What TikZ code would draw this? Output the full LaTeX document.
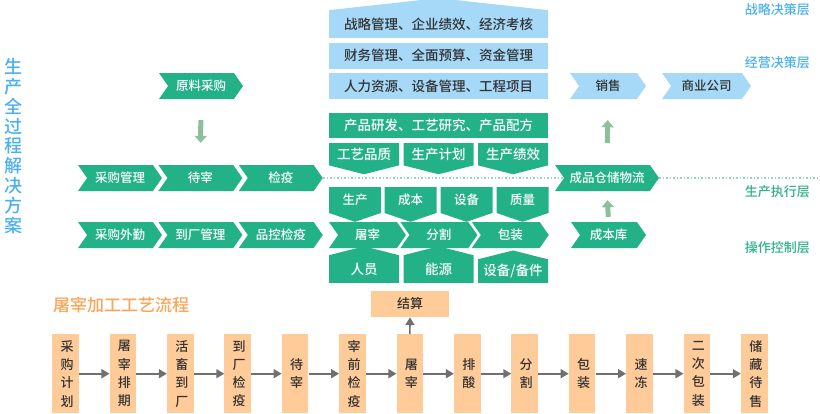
\documentclass[tikz,border=0pt]{standalone}
\usepackage{fontspec}
\setmainfont{Noto Sans CJK SC}[UprightFont={* Medium}]
\usetikzlibrary{shapes.symbols, arrows.meta, positioning}
\usepackage{xcolor}
\definecolor{boxgreen}{RGB}{35, 177, 136}
\definecolor{boxblue}{RGB}{166, 216, 247}
\definecolor{boxorange}{RGB}{255, 204, 153}
\definecolor{titleblue}{RGB}{74, 176, 240}
\definecolor{titleorange}{RGB}{250, 165, 90}
\definecolor{layergreen}{RGB}{45, 178, 138}
\definecolor{arrowgreen}{RGB}{141, 191, 155}
\definecolor{arrowgray}{RGB}{112, 112, 112}
\definecolor{dotgreen}{RGB}{150, 215, 195}
\definecolor{textdark}{RGB}{51, 51, 51}

\begin{document}
\begin{tikzpicture}[
    x=1pt, y=-1pt,
    % Node styles
    chev/.style={signal, signal to=east, signal from=west, signal pointer angle=110, minimum width=84pt, minimum height=26pt, inner sep=0pt, fill=boxgreen, text=white, font=\fontsize{12.5}{14}\selectfont},
    bluechev/.style={chev, fill=boxblue, text=textdark},
    bar/.style={rectangle, minimum width=219pt, minimum height=26pt, inner sep=0pt, fill=boxblue, text=textdark, font=\fontsize{13.5}{15}\selectfont},
    roofbar/.style={bar, signal, signal to=north, signal pointer angle=167.5, minimum height=38pt},
    downbox/.style={signal, signal to=south, signal pointer angle=151.6, minimum width=70pt, minimum height=29pt, inner sep=0pt, fill=boxgreen, text=white, font=\fontsize{13.5}{15}\selectfont},
    smalldown/.style={downbox, signal pointer angle=142.2, minimum width=52pt, minimum height=30pt, font=\fontsize{12.5}{14}\selectfont},
    upbox/.style={downbox, signal to=north, minimum height=31pt},
    procbox/.style={rectangle, minimum width=26.5pt, minimum height=79pt, inner sep=0pt, text width=1em, align=center, fill=boxorange, text=textdark, font=\fontsize{13}{18.3}\selectfont},
    layer/.style={anchor=east, inner sep=0pt, font=\fontsize{13}{15}\selectfont},
    % Arrow styles
    garrow/.style={-{Triangle[length=7pt, width=12pt]}, line width=5pt, arrowgreen},
    parrow/.style={-{Triangle[length=8pt, width=9pt]}, line width=1.6pt, arrowgray},
    dotline/.style={line width=1.5pt, dash pattern=on 1.5pt off 2pt, dotgreen},
]
\useasboundingbox (0,0) rectangle (820,413);

% Title on the left
\node[text width=1em, align=center, inner sep=0pt, text=titleblue, font=\fontsize{18}{19.8}\selectfont] (title) at (10,146) {生\\产\\全\\过\\程\\解\\决\\方\\案};

% Layer labels on the right
\node[layer, text=titleblue] (lzl) at (810,10) {战略决策层};
\node[layer, text=titleblue] (ljy) at (810,63) {经营决策层};
\node[layer, text=layergreen] (lsc) at (810,192) {生产执行层};
\node[layer, text=layergreen] (lcz) at (810,248) {操作控制层};

% Left side flow
\node[chev] (ylcg) at (201,86) {原料采购};
\node[chev] (cggl) at (120,178) {采购管理};
\node[chev, right=5pt of cggl] (dz) {待宰};
\node[chev, right=5pt of dz] (jy) {检疫};
\node[chev] (cgwq) at (120,235) {采购外勤};
\node[chev, right=5pt of cgwq] (dcgl) {到厂管理};
\node[chev, right=5pt of dcgl] (pkjy) {品控检疫};

% Dotted line through the middle
\coordinate (lineend) at (820,178);

% Centre column
\node[roofbar, anchor=south] (zlgl) at (438.5,38) {战略管理、企业绩效、经济考核};
\node[bar] (cwgl) at (438.5,55.5) {财务管理、全面预算、资金管理};
\node[bar] (rlzy) at (438.5,86) {人力资源、设备管理、工程项目};
\node[bar, fill=boxgreen, text=white, minimum height=25pt] (cpyf) at (438.5,125.5) {产品研发、工艺研究、产品配方};
\node[downbox, anchor=north] (gypz) at (364,143) {工艺品质};
\node[downbox, anchor=north] (scjh) at (438.5,143) {生产计划};
\node[downbox, anchor=north] (scjx) at (513,143) {生产绩效};
\node[smalldown, anchor=north] (sc) at (355,187) {生产};
\node[smalldown, anchor=north] (cb) at (410.5,187) {成本};
\node[smalldown, anchor=north] (sb) at (466.5,187) {设备};
\node[smalldown, anchor=north] (zl) at (522.5,187) {质量};
\node[chev, minimum width=77pt] (tz) at (367.5,235) {屠宰};
\node[chev, minimum width=77pt, right=3pt of tz] (fg) {分割};
\node[chev, minimum width=77pt, right=3pt of fg] (bz) {包装};
\node[upbox, anchor=south] (ry) at (364,283) {人员};
\node[upbox, anchor=south] (ny) at (438.5,283) {能源};
\node[upbox, anchor=south] (sbbj) at (513,283) {设备/备件};

% Right side flow
\node[bluechev, minimum width=76pt] (xs) at (608,86) {销售};
\node[bluechev, minimum width=89pt] (sygs) at (706.5,86) {商业公司};
\node[chev, minimum width=104pt] (cpcc) at (607,178) {成品仓储物流};
\node[chev, minimum width=75pt] (cbk) at (608.5,235) {成本库};

\draw[dotline] (jy.east) -- (cpcc.west);
\draw[dotline] (cpcc.east) -- (lineend);

% Green arrows
\draw[garrow, shorten <=21pt, shorten >=22pt] (ylcg.south) -- (dz.north);
\draw[garrow, shorten <=22pt, shorten >=21pt] (cpcc.north) -- (xs.south);
\draw[garrow, shorten <=5pt, shorten >=9pt] (cbk.north) -- (cpcc.south);

% Slaughter process
\node[anchor=west, inner sep=0pt, text=titleorange, font=\fontsize{17}{19}\selectfont] (proc) at (53,305) {屠宰加工工艺流程};
\foreach \t [count=\i from 0] in {{采\\购\\计\\划}, {屠\\宰\\排\\期}, {活\\畜\\到\\厂}, {到\\厂\\检\\疫}, {待\\宰}, {宰\\前\\检\\疫}, {屠\\宰}, {排\\酸}, {分\\割}, {包\\装}, {速\\冻}, {二\\次\\包\\装}, {储\\藏\\待\\售}}
    \node[procbox, anchor=north] (b\i) at ({65.5+57.4*\i},334) {\t};
\foreach \i [evaluate=\i as \j using int(\i+1)] in {0,...,11}
    \draw[parrow] (b\i.east) -- (b\j.west);
\node[rectangle, minimum width=78pt, minimum height=26pt, inner sep=0pt, fill=boxorange, text=textdark, font=\fontsize{13}{15}\selectfont] (js) at (410,304) {结算};
\draw[parrow] (b6.north) -- (js.south);

\end{tikzpicture}
\end{document}
